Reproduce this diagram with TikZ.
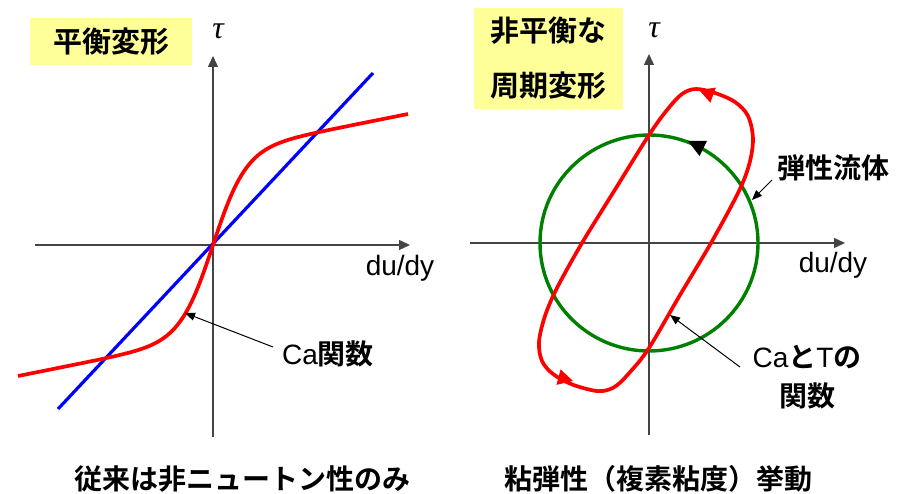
\documentclass[tikz,border=0pt]{standalone}
\usepackage{fontspec}
\setmainfont{Liberation Sans}
\newfontfamily\jp{Noto Sans CJK JP}[BoldFont={Noto Sans CJK JP Bold}]
\newfontfamily\tauf{Liberation Serif}
\usetikzlibrary{arrows.meta}
\definecolor{hdr}{HTML}{FFFF99}
\definecolor{axisgray}{HTML}{444444}
\definecolor{cgreen}{HTML}{008000}
\definecolor{cred}{HTML}{FF0000}
\definecolor{cblue}{HTML}{0000FF}
\begin{document}
\begin{tikzpicture}[x=1pt,y=-1pt,
  axis/.style={draw=axisgray, line width=1.4pt, -{Triangle[length=11pt,width=10pt]}},
  hdrbox/.style={fill=hdr, inner sep=0pt, align=center,
     font=\fontsize{29}{55}\jp\bfseries},
  lbl/.style={inner sep=0pt, font=\fontsize{28}{38}\selectfont},
  jplbl/.style={inner sep=0pt, font=\fontsize{28}{38}\jp\bfseries},
  taulbl/.style={inner sep=0pt, font=\fontsize{32}{34}\tauf\itshape},
  redline/.style={draw=cred, line width=3.7pt},
  pointer/.style={draw=black, line width=1pt, -{Triangle[length=10pt,width=8pt]}},
  loophead/.style={fill=cred},
]
\useasboundingbox (0,0) rectangle (921,494);

% ================= left panel =================
\node[hdrbox, minimum width=162pt, minimum height=47pt] (hl) at (111,41.5) {平衡変形};

\coordinate (lx0) at (35,245);
\coordinate (lx1) at (410,245);
\coordinate (ly0) at (213,437);
\coordinate (ly1) at (213,56);
\draw[axis] (lx0) -- (lx1);
\draw[axis] (ly0) -- (ly1);
\node[taulbl] (taul) at (218,31) {τ};
\node[lbl] (dul) at (400,268) {du/dy};

\coordinate (b0) at (58,409);
\coordinate (b1) at (373,73);
\draw[draw=cblue, line width=3.2pt] (b0) -- (b1);

\begin{scope}[shift={(213,245)}, yscale=-1]
\draw[redline] plot[domain=-195:195, samples=160, smooth] (\x, {0.2*\x + 92*tanh(\x/33)});
\end{scope}

\node[anchor=west, inner sep=0pt] (cal) at (282,354)
  {\fontsize{28}{30}\selectfont Ca{\jp\bfseries 関数}};
\coordinate (calstart) at (273,347);
\coordinate (calend) at (185,313);
\draw[pointer] (calstart) -- (calend);

\node[jplbl] (capl) at (242,479) {従来は非ニュートン性のみ};

% ================= right panel =================
\node[hdrbox, minimum width=149pt, minimum height=101pt] (hr) at (548.5,58.5)
  {非平衡な\\周期変形};

\coordinate (rx0) at (470,243);
\coordinate (rx1) at (845,243);
\coordinate (ry0) at (649,435);
\coordinate (ry1) at (649,54);
\draw[axis] (rx0) -- (rx1);
\draw[axis] (ry0) -- (ry1);
\node[taulbl] (taur) at (654,30) {τ};
\node[lbl] (dur) at (833,265) {du/dy};

\coordinate (O) at (649,243);
\draw[draw=cgreen, line width=3.4pt] (O) ellipse [x radius=109, y radius=108];
\fill[black, shift={(688,141)}, rotate=154] (0,0) -- (-17,8.5) -- (-17,-8.5) -- cycle;

\begin{scope}[shift={(649,243)}, yscale=-1]
\draw[redline] plot[smooth cycle, tension=0.55] coordinates {
 (0,-105) (31,-52) (62,0) (89,50) (100,78) (104,104) (99,127) (86,141) (66,150) (47,154)
 (33,149) (18,133) (0,108) (-33,55) (-67,0) (-92,-45) (-104,-73) (-110,-99) (-107,-118)
 (-96,-131) (-78,-141) (-58,-147) (-46,-148) (-33,-143) (-18,-128)};
\end{scope}
\fill[loophead, shift={(699,90)}, rotate=160] (0,0) -- (-15,8) -- (-15,-8) -- cycle;
\fill[loophead, shift={(573,381)}, rotate=-15] (0,0) -- (-15,8) -- (-15,-8) -- cycle;

\node[jplbl, anchor=west] (elast) at (777,168) {弾性流体};
\coordinate (elstart) at (772,180);
\coordinate (elend) at (752,200);
\draw[pointer] (elstart) -- (elend);

\node[inner sep=0pt, align=center, font=\fontsize{28}{39}\selectfont] (catl) at (807,377)
  {Ca{\jp\bfseries と}T{\jp\bfseries の}\\{\jp\bfseries 関数}};
\coordinate (catstart) at (740,367);
\coordinate (catend) at (670,315);
\draw[pointer] (catstart) -- (catend);

\node[jplbl] (capr) at (658,479) {粘弾性（複素粘度）挙動};
\end{tikzpicture}
\end{document}
